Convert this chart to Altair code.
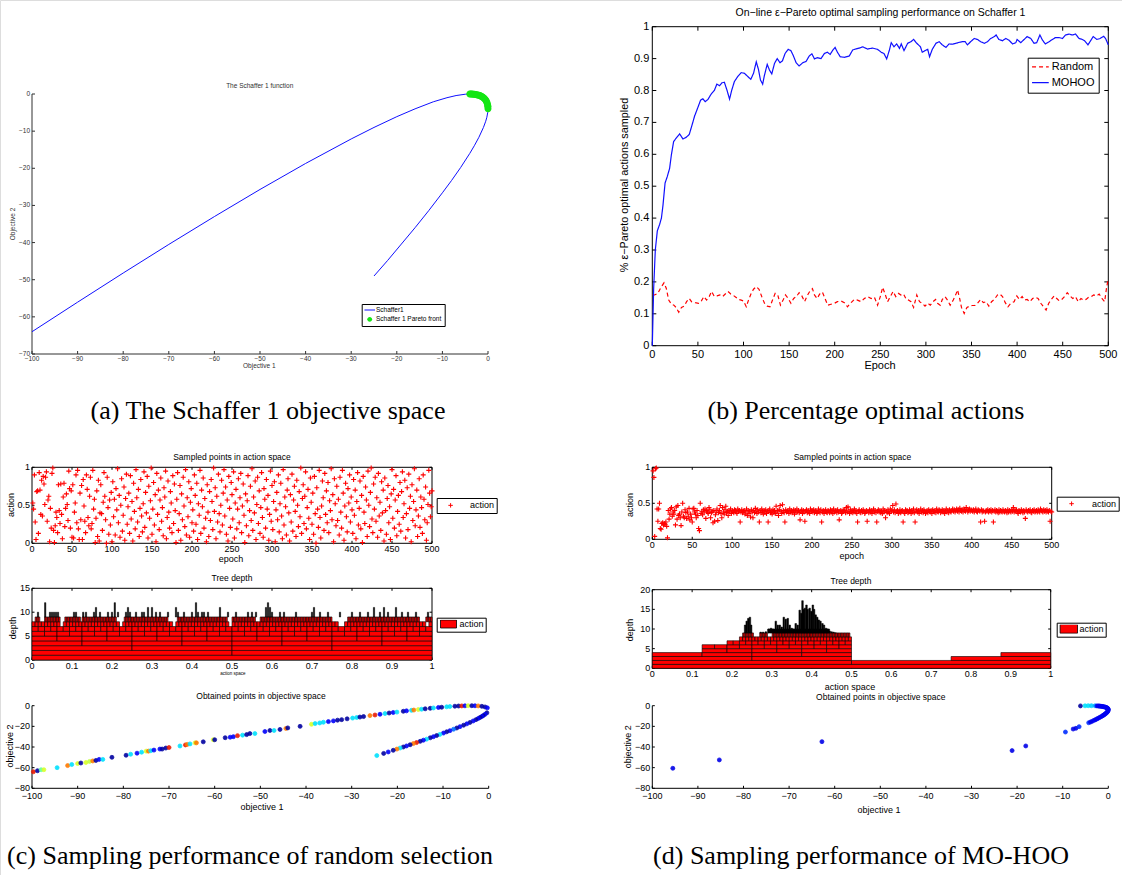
import altair as alt
import pandas as pd

W, H = 1122, 875
SANS = "Liberation Sans"
SERIF = "Liberation Serif"

# ---------------- (a) Schaffer 1 objective space (objective 1, objective 2) ----------------
schaffer_curve = [(-100, -64), (-90, -56.05), (-80, -48.2), (-70, -40.5), (-60, -33.0), (-50, -25.7),
                  (-40, -18.7), (-30, -12.1), (-25, -9.0), (-20, -6.1), (-16, -4.0), (-12, -2.1),
                  (-9, -1.0), (-7, -0.42), (-5, -0.06), (-4, 0.0), (-3, -0.07), (-2, -0.34), (-1, -1.0),
                  (-0.5, -1.67), (-0.25, -2.25), (-0.1, -2.84), (0, -4.0), (-0.05, -4.9), (-0.25, -6.25),
                  (-0.5, -7.33), (-1, -9.0), (-2, -11.66), (-3, -13.93), (-4, -16.0), (-6, -19.8),
                  (-8, -23.3), (-10, -26.6), (-13, -31.4), (-16, -36.0), (-19, -40.4), (-22, -44.8),
                  (-25, -49.0)]
pareto_front = [(0, -4.0), (-0.02, -3.45), (-0.04, -3.2), (-0.1, -2.84), (-0.2, -2.41), (-0.3, -2.1),
                (-0.45, -1.77), (-0.6, -1.5), (-0.8, -1.22), (-1.0, -1.0), (-1.2, -0.82), (-1.4, -0.67),
                (-1.6, -0.54), (-1.8, -0.43), (-2.0, -0.34), (-2.25, -0.25), (-2.5, -0.18), (-2.75, -0.12),
                (-3.0, -0.07), (-3.25, -0.04), (-3.5, -0.02), (-3.75, 0.0), (-4.0, 0.0)]
a_series = ["Schaffer1", "Schaffer 1 Pareto front"]

# ---------------- (b) percentage of eps-Pareto optimal actions (epoch, fraction) ----------------
b_series = ["Random", "MOHOO"]
mohoo_curve = [(0, 0), (1.5, 0.18), (3.3, 0.30), (5.5, 0.36), (8, 0.38), (10, 0.40), (11.7, 0.44), (14, 0.51),
               (16.4, 0.53), (19, 0.556), (21, 0.60), (23.4, 0.64), (26, 0.65), (30, 0.664), (33.6, 0.648),
               (37, 0.653), (40.5, 0.662), (43.4, 0.69), (46.4, 0.72), (50, 0.747), (53, 0.77), (55.5, 0.774),
               (58, 0.765), (61, 0.772), (64.6, 0.789), (68, 0.80), (70.8, 0.82), (73.7, 0.815), (76.3, 0.824),
               (79, 0.826), (82, 0.80), (84.7, 0.773), (87, 0.80), (90, 0.828), (94, 0.845), (97.5, 0.856),
               (101, 0.854), (105, 0.843), (108, 0.835), (111, 0.854), (114, 0.89), (116.4, 0.866),
               (118.6, 0.833), (121, 0.82), (123, 0.848), (126, 0.882), (128.5, 0.864), (131, 0.852),
               (134, 0.885), (137, 0.90), (140, 0.887), (142.7, 0.893), (145.6, 0.916), (149, 0.929),
               (152, 0.925), (154.8, 0.908), (157.7, 0.887), (161, 0.877), (165, 0.887), (168.6, 0.891),
               (172, 0.908), (175, 0.915), (177.8, 0.899), (181, 0.903), (185, 0.90), (188.7, 0.916),
               (192, 0.92), (195, 0.913), (198, 0.927), (200.4, 0.935), (203, 0.92), (206, 0.906),
               (210.6, 0.904), (216, 0.908), (219.7, 0.927), (223, 0.93), (227, 0.933), (230.7, 0.937),
               (236, 0.93), (241.6, 0.933), (247, 0.929), (251, 0.92), (254, 0.916), (257, 0.899), (260, 0.927),
               (262, 0.95), (265, 0.937), (268, 0.946), (271, 0.932), (273, 0.946), (276, 0.925), (280, 0.948),
               (283.6, 0.953), (286.5, 0.96), (290, 0.948), (294, 0.937), (296, 0.92), (299, 0.925),
               (302, 0.929), (304, 0.906), (307, 0.929), (311, 0.948), (314.6, 0.953), (318, 0.943),
               (322, 0.935), (325.5, 0.946), (329, 0.945), (333, 0.948), (336.5, 0.951), (340, 0.953),
               (343, 0.953), (345.6, 0.943), (349, 0.953), (353, 0.963), (356.6, 0.96), (360, 0.953),
               (364, 0.948), (367.5, 0.953), (371, 0.963), (375, 0.969), (377, 0.974), (380, 0.96),
               (384, 0.956), (387.6, 0.963), (391, 0.958), (395, 0.946), (398.6, 0.95), (400, 0.96),
               (404, 0.95), (407.7, 0.96), (411, 0.969), (415, 0.963), (418.6, 0.948), (421.5, 0.95),
               (425, 0.974), (427.8, 0.958), (431, 0.946), (435, 0.953), (438.7, 0.96), (442, 0.966),
               (446, 0.966), (449.7, 0.963), (453, 0.974), (457, 0.977), (460.6, 0.974), (464, 0.977),
               (468, 0.963), (471.6, 0.96), (474, 0.956), (477.7, 0.943), (481, 0.958), (483.5, 0.969),
               (487.5, 0.96), (491, 0.963), (495, 0.97), (497, 0.963), (500, 0.943)]
random_curve = [(0.5, 0.16), (2.5, 0.159), (6, 0.164), (9, 0.18), (12.8, 0.197), (15.3, 0.18), (18, 0.143),
                (21, 0.13), (23.7, 0.127), (26, 0.12), (29, 0.105), (32, 0.12), (35, 0.124), (37.6, 0.138),
                (40.5, 0.148), (43, 0.138), (47, 0.135), (50.7, 0.133), (53.7, 0.14), (56.6, 0.154),
                (59.5, 0.143), (62.4, 0.154), (65, 0.17), (68, 0.154), (71, 0.156), (74, 0.159), (77, 0.154),
                (80, 0.162), (83, 0.17), (86, 0.162), (88.7, 0.158), (91.6, 0.152), (94.5, 0.145),
                (97.5, 0.143), (100, 0.14), (103, 0.122), (105.5, 0.143), (108.4, 0.164), (111, 0.177),
                (114, 0.185), (117, 0.177), (120, 0.154), (123, 0.133), (126, 0.124), (129, 0.122),
                (131.8, 0.143), (134.7, 0.164), (137.6, 0.159), (140.5, 0.127), (143.4, 0.143), (146, 0.159),
                (149, 0.148), (152, 0.133), (155, 0.148), (158, 0.154), (161, 0.166), (164, 0.156),
                (167, 0.138), (169.7, 0.156), (172.6, 0.17), (175.6, 0.179), (177.8, 0.159), (180.7, 0.148),
                (183.6, 0.162), (186.5, 0.168), (189.4, 0.148), (192.4, 0.127), (196, 0.13), (199.7, 0.133),
                (203, 0.138), (207, 0.14), (210.6, 0.135), (214, 0.122), (218, 0.135), (221.6, 0.145),
                (225, 0.143), (229, 0.138), (232.5, 0.148), (236, 0.154), (240, 0.148), (243.5, 0.152),
                (247, 0.127), (250, 0.154), (252.6, 0.183), (255, 0.164), (258, 0.138), (261, 0.154),
                (264, 0.17), (267, 0.154), (270, 0.164), (272.6, 0.159), (275.5, 0.162), (278.5, 0.145),
                (281, 0.143), (283.6, 0.138), (286.5, 0.12), (290, 0.159), (293, 0.138), (296, 0.133),
                (299, 0.124), (302, 0.133), (304.8, 0.127), (307.7, 0.138), (310.6, 0.145), (312.8, 0.133),
                (315.7, 0.127), (318, 0.145), (321, 0.154), (323.7, 0.143), (326.6, 0.127), (330, 0.143),
                (333, 0.162), (334.7, 0.175), (337, 0.148), (339, 0.12), (342, 0.101), (345, 0.12),
                (348, 0.124), (350.7, 0.126), (353.7, 0.126), (356.6, 0.133), (360, 0.145), (363, 0.135),
                (366, 0.138), (369, 0.124), (372, 0.138), (375, 0.145), (378.5, 0.159), (381, 0.162),
                (384, 0.154), (387, 0.135), (390, 0.122), (393, 0.133), (396.7, 0.138), (399.7, 0.156),
                (402.6, 0.145), (405.5, 0.154), (408, 0.143), (411, 0.145), (414, 0.138), (417, 0.148),
                (420, 0.152), (423, 0.148), (426, 0.133), (429, 0.122), (431.8, 0.112), (434.7, 0.133),
                (437.6, 0.145), (440.5, 0.156), (443.5, 0.148), (446, 0.141), (449, 0.145), (452, 0.154),
                (455, 0.166), (458, 0.156), (461, 0.148), (464, 0.154), (467, 0.138), (470, 0.148),
                (472.6, 0.143), (475.6, 0.145), (478.5, 0.152), (481.4, 0.154), (484, 0.159), (487, 0.156),
                (490, 0.162), (493, 0.148), (496, 0.138), (498, 0.18), (500, 0.211)]

# ---------------- (c) random selection ----------------
c_action = [
    .53, .45, .90, .28, .05, .68, .69, .13, .93, .70, .38, .83, .36, .88, .78, .51, .87, .94, .29, .57,
    .62, .02, .46, .20, .92, .99, .17, .01, .23, .41, .34, .14, .77, .43, .26, .78, .38, .06, .61, .79,
    .22, .46, .65, .51, .30, .95, .72, .20, .69, .08, .77, .07, .41, .53, .90, .27, .96, .19, .05, .66,
    .31, .76, .05, .84, .49, .29, .14, .90, .71, .34, .23, .62, .87, .19, .26, .96, .45, .58, .01, .33,
    .69, .09, .83, .03, .40, .77, .39, .17, .54, .93, .62, .31, .00, .87, .47, .12, .57, .24, .67, .02,
    .81, .35, .58, .11, .72, .44, .98, .27, .63, .08, .50, .85, .16, .37, .74, .04, .59, .91, .25, .48,
    .66, .13, .89, .32, .55, .03, .79, .42, .19, .97, .60, .28, .71, .09, .46, .84, .36, .15, .52, .94,
    .21, .67, .40, .88, .07, .75, .33, .56, .99, .12, .45, .80, .24, .64, .02, .92, .38, .70, .18, .57,
    .86, .29, .47, .10, .73, .61, .95, .06, .34, .82, .41, .20, .68, .53, .14, .89, .26, .78, .43, .01,
    .58, .93, .17, .39, .76, .04, .65, .31, .87, .49, .22, .97, .11, .60, .35, .81, .08, .54, .72, .27,
    .44, .16, .90, .63, .25, .79, .05, .52, .37, .96, .13, .70, .48, .86, .20, .59, .33, .02, .77, .41,
    .09, .68, .30, .84, .55, .18, .99, .42, .73, .06, .62, .28, .91, .39, .15, .50, .83, .24, .66, .97,
    .36, .74, .12, .57, .03, .88, .46, .21, .80, .64, .32, .94, .07, .53, .71, .19, .45, .85, .27, .60,
    .92, .14, .49, .78, .37, .01, .65, .23, .56, .89, .10, .43, .75, .30, .98, .17, .61, .40, .82, .05,
    .51, .87, .26, .69, .13, .47, .93, .34, .08, .72, .58, .20, .84, .45, .63, .04, .38, .95, .29, .76,
    .18, .55, .81, .02, .44, .67, .31, .90, .15, .52, .79, .36, .06, .97, .24, .61, .48, .11, .70, .85,
    .40, .03, .64, .28, .91, .16, .57, .75, .42, .09, .83, .50, .22, .68, .35, .99, .13, .59, .77, .26,
    .62, .94, .19, .47, .71, .33, .05, .86, .54, .25, .66, .12, .88, .39, .00, .73, .45, .21, .96, .34,
    .07, .49, .82, .60, .17, .92, .38, .69, .27, .80, .14, .56, .43, .98, .31, .64, .02, .85, .52, .23,
    .75, .30, .58, .11, .87, .41, .20, .96, .66, .04, .49, .79, .35, .15, .72, .53, .90, .28, .61, .44,
    .13, .84, .37, .70, .06, .55, .93, .24, .46, .82, .19, .63, .01, .88, .41, .26, .74, .57, .09, .95,
    .50, .22, .67, .99, .32, .14, .78, .45, .87, .29, .60, .08, .92, .36, .54, .17, .81, .40, .70, .03,
    .86, .43, .12, .59, .76, .27, .48, .05, .65, .97, .33, .71, .20, .57, .89, .10, .42, .63, .25, .80,
    .16, .68, .94, .34, .52, .83, .07, .39, .73, .18, .91, .46, .62, .02, .77, .30, .55, .98, .23, .44,
    .70, .09, .36, .85, .21, .61, .47, .13, .90, .58, .31, .74, .04, .27, .51, .96, .66, .35, .48, .69]

# tree rows: (depth row, [(first node, last node + 1)]) ; node width = 2 ** -row
c_tree_rows = [(0, [(0, 1)]), (1, [(0, 2)]), (2, [(0, 4)]), (3, [(0, 8)]), (4, [(0, 16)]), (5, [(0, 32)]),
               (6, [(0, 64)]),
               (7, [(0, 9), (10, 28), (29, 45), (46, 63), (64, 98), (100, 126), (127, 128)]),
               (8, [(2, 5), (8, 18), (21, 31), (32, 54), (59, 87), (93, 125), (128, 143), (146, 192),
                    (202, 248), (252, 256)])]
# deeper nodes (action, depth reached)
c_tree_spikes = [(0.015, 10), (0.033, 12), (0.045, 10), (0.05, 10), (0.055, 10), (0.06, 10), (0.065, 10),
                 (0.105, 10), (0.11, 10), (0.128, 10), (0.135, 10), (0.155, 10), (0.16, 11), (0.17, 10),
                 (0.19, 10), (0.2, 10), (0.207, 12), (0.215, 10), (0.235, 10), (0.24, 11), (0.245, 10),
                 (0.26, 10), (0.275, 10), (0.28, 10), (0.29, 11), (0.3, 11), (0.31, 10), (0.32, 10),
                 (0.34, 10), (0.36, 11), (0.365, 10), (0.38, 10), (0.4, 10), (0.41, 12), (0.415, 10),
                 (0.425, 10), (0.43, 10), (0.44, 10), (0.47, 11), (0.49, 10), (0.51, 10), (0.54, 10),
                 (0.55, 10), (0.56, 10), (0.585, 11), (0.59, 12), (0.595, 11), (0.6, 10), (0.62, 10),
                 (0.63, 10), (0.66, 10), (0.7, 10), (0.705, 11), (0.72, 10), (0.74, 10), (0.77, 10),
                 (0.8, 10), (0.82, 10), (0.84, 10), (0.855, 11), (0.87, 10), (0.88, 11), (0.89, 10),
                 (0.91, 11), (0.925, 10), (0.94, 10), (0.96, 10), (0.99, 10)]

# obtained points in objective space: (objective 1, objective 2, colour value 0..1 on jet)
c_objective = [(-99.7, -64, 0.9), (-98.8, -63, 0.02), (-98, -62, 0.5), (-97.4, -62, 0.62), (-94.5, -60, 0.38),
               (-92.2, -58, 0.8), (-91.3, -57, 0.38), (-90, -56, 0.62), (-89.3, -55.5, 0.02), (-88.2, -55, 0.62),
               (-87.4, -54, 0.6), (-86.7, -53.5, 0.8), (-86, -53, 0.02), (-85.3, -52, 0.12), (-84.5, -52, 0.38),
               (-82.5, -50, 0.02), (-79.4, -48, 0.02), (-78.4, -47, 0.38), (-77, -46, 0.12), (-76, -45, 0.38),
               (-75, -44, 0.62), (-74.5, -44, 0.8), (-74, -43.6, 0.38), (-73.3, -43, 0.12), (-72, -42, 0.12),
               (-71.5, -42, 0.02), (-70.7, -41, 0.02), (-70, -40.5, 0.9), (-67.6, -39, 0.38), (-66.4, -38, 0.9),
               (-66, -37.5, 0.8), (-65.4, -37, 0.38), (-64.3, -36, 0.62), (-64, -36, 0.8), (-62.5, -35, 0.02),
               (-60.3, -33, 0.62), (-60, -33, 0.02), (-57.7, -31, 0.02), (-56.6, -30.5, 0.12), (-55.9, -30, 0.12),
               (-55, -29, 0.9), (-53.9, -28.5, 0.38), (-53, -28, 0.02), (-52.3, -27, 0.02), (-51.2, -27, 0.38),
               (-49, -25, 0.12), (-47.9, -24, 0.02), (-47, -24, 0.38), (-45.7, -23, 0.02), (-44.4, -22, 0.8),
               (-44, -21.5, 0.02), (-41.3, -20, 0.02), (-38.8, -18, 0.62), (-38, -17.3, 0.38), (-37, -16.7, 0.38),
               (-36.2, -16, 0.38), (-35.1, -15.4, 0.12), (-34, -14.7, 0.12), (-33.1, -14, 0.02), (-32.2, -13.5, 0.02),
               (-31, -12.7, 0.02), (-29.8, -12, 0.38), (-28.9, -11.4, 0.38), (-28.2, -11, 0.02), (-27.4, -10.5, 0.02),
               (-26, -9.6, 0.8), (-24.9, -9, 0.9), (-23.8, -8.3, 0.12), (-22.7, -7.6, 0.38), (-21.8, -7.1, 0.02),
               (-20.9, -6.6, 0.12), (-20.1, -6.2, 0.38), (-18.7, -5.4, 0.02), (-18, -5, 0.12), (-16.9, -4.5, 0.38),
               (-16.4, -4.2, 0.8), (-15.4, -3.7, 0.62), (-14.7, -3.4, 0.38), (-13.9, -3, 0.02), (-12.8, -2.5, 0.02),
               (-12.1, -2.2, 0.38), (-11, -1.7, 0.12), (-10.3, -1.5, 0.02), (-9.2, -1.1, 0.38), (-8.5, -0.8, 0.38),
               (-7.4, -0.5, 0.02), (-6.6, -0.3, 0.02), (-5.9, -0.2, 0.9), (-5.2, -0.1, 0.12), (-4.5, 0, 0.62),
               (-3.7, 0, 0.02), (-3, -0.07, 0.12), (-2.3, -0.2, 0.8), (-1.5, -0.6, 0.02), (-0.8, -1.2, 0.02),
               (-0.3, -2.1, 0.12), (-0.4, -6.9, 0.02), (-0.8, -8.4, 0.12), (-1.2, -9.6, 0.02), (-1.5, -10.4, 0.12),
               (-1.9, -11.4, 0.02), (-2.3, -12.4, 0.12), (-2.8, -13.5, 0.02), (-3.4, -14.8, 0.12), (-4.1, -16.2, 0.02),
               (-4.8, -17.6, 0.12), (-5.5, -18.9, 0.02), (-6.3, -20.3, 0.12), (-7, -21.6, 0.02), (-7.7, -22.8, 0.25),
               (-8.5, -24.2, 0.12), (-9.2, -25.3, 0.02), (-9.9, -26.5, 0.12), (-10.7, -27.8, 0.38), (-11.4, -28.9, 0.02),
               (-12.1, -30, 0.12), (-12.8, -31.1, 0.02), (-13.6, -32.4, 0.38), (-14.3, -33.4, 0.12), (-15, -34.5, 0.02),
               (-15.8, -35.7, 0.9), (-16.5, -36.7, 0.8), (-17.2, -37.8, 0.02), (-18, -39, 0.12), (-18.7, -40, 0.02),
               (-19.4, -41, 0.38), (-20.1, -42, 0.8), (-20.9, -43.2, 0.02), (-22, -44.8, 0.12), (-23, -46.2, 0.02),
               (-24.5, -48.3, 0.38)]

# ---------------- (d) MO-HOO ----------------
d_action = [
    .95, .86, .04, .98, .99, .42, .25, .42, .50, .15, .14, .22, .23, .20, .22, .21, .24, .18, .02, .40,
    .28, .35, .42, .44, .32, .38, .35, .40, .20, .45, .28, .47, .33, .35, .30, .19, .38, .50, .32, .30,
    .41, .37, .29, .38, .32, .43, .27, .35, .30, .24, .42, .43, .38, .35, .30, .40, .33, .15, .12, .50,
    .36, .39, .34, .41, .38, .42, .29, .40, .38, .36, .44, .41, .30, .37, .39, .23, .40, .25, .34, .38,
    .42, .26, .37, .40, .47, .36, .30, .44, .38, .35, .41, .46, .37, .39, .33, .40, .38, .42, .36, .40,
    .39, .37, .41, .40, .38, .36, .42, .39, .40, .24, .38, .41, .37, .39, .40, .35, .38, .42, .33, .40,
    .36, .39, .31, .41, .38, .30, .40, .37, .43, .39, .36, .41, .38, .24, .40, .37, .42, .39, .35, .40,
    .38, .41, .36, .39, .24, .40, .42, .37, .38, .35, .41, .39, .40, .36, .46, .38, .40, .33, .41, .47,
    .39, .36, .48, .40, .37, .24, .41, .38, .39, .40, .36, .42, .38, .40, .37, .39, .41, .35, .40, .38,
    .42, .38, .40, .37, .27, .39, .41, .36, .40, .38, .25, .39, .41, .37, .40, .38, .36, .42, .39, .40,
    .38, .41, .37, .40, .39, .36, .38, .42, .39, .37, .41, .24, .38, .40, .36, .39, .41, .38, .37, .40,
    .39, .37, .41, .38, .40, .36, .42, .38, .39, .40, .37, .41, .38, .27, .39, .40, .36, .38, .41, .39,
    .40, .37, .44, .38, .45, .39, .36, .41, .38, .40, .37, .39, .42, .38, .40, .36, .24, .39, .41, .38,
    .37, .40, .38, .41, .39, .36, .38, .40, .25, .39, .37, .41, .38, .40, .36, .39, .42, .38, .40, .37,
    .24, .39, .41, .38, .40, .37, .39, .36, .42, .38, .40, .30, .39, .37, .41, .38, .36, .42, .39, .40,
    .47, .38, .41, .37, .49, .39, .40, .36, .38, .41, .37, .39, .40, .24, .38, .36, .41, .39, .40, .37,
    .38, .41, .39, .36, .40, .38, .42, .37, .24, .39, .41, .38, .40, .36, .39, .42, .38, .40, .37, .41,
    .39, .36, .38, .40, .37, .41, .39, .38, .40, .36, .41, .39, .38, .40, .37, .42, .39, .38, .41, .40,
    .37, .39, .41, .38, .40, .36, .39, .42, .38, .40, .37, .41, .39, .38, .40, .42, .39, .41, .38, .40,
    .42, .39, .41, .38, .43, .40, .39, .41, .38, .42, .40, .39, .44, .41, .38, .40, .42, .39, .41, .40,
    .39, .41, .38, .40, .42, .39, .38, .41, .40, .39, .24, .41, .38, .40, .39, .25, .38, .40, .39, .41,
    .38, .40, .39, .41, .38, .40, .24, .39, .41, .38, .40, .39, .37, .41, .38, .40, .39, .38, .41, .39,
    .38, .40, .39, .37, .41, .38, .40, .39, .38, .41, .39, .44, .38, .40, .39, .41, .38, .36, .40, .39,
    .38, .41, .39, .37, .40, .38, .29, .41, .39, .38, .40, .39, .41, .38, .37, .40, .39, .41, .38, .39,
    .40, .38, .41, .39, .38, .42, .40, .39, .38, .41, .39, .40, .38, .41, .39, .38, .40, .25, .39, .38]

d_tree_rows = [(0, [(0, 1)]), (1, [(0, 2)]), (2, [(0, 2), (3, 4)]), (3, [(0, 4), (7, 8)]), (4, [(2, 8)]),
               (5, [(4, 16)]), (6, [(12, 32)]), (7, [(28, 64)]), (8, [(58, 65), (69, 74), (77, 127)])]
d_tree_band = [(0.29, 0.445, 10)]
d_tree_spikes = [(0.233, 11), (0.237, 12), (0.241, 12.7), (0.245, 13), (0.248, 11), (0.272, 9.2), (0.278, 9.2),
                 (0.285, 9.3), (0.292, 10), (0.298, 10.2), (0.303, 10), (0.31, 12), (0.315, 11), (0.32, 11),
                 (0.325, 10.5), (0.33, 13), (0.335, 12.5), (0.34, 12.7), (0.345, 11), (0.35, 10.2), (0.355, 10),
                 (0.36, 11.4), (0.365, 11), (0.37, 14.8), (0.374, 14), (0.377, 17.2), (0.38, 15), (0.383, 15.3),
                 (0.387, 16.1), (0.39, 15), (0.395, 15.3), (0.399, 14.5), (0.403, 16.1), (0.406, 15),
                 (0.41, 13.6), (0.414, 13), (0.418, 12.3), (0.422, 12), (0.427, 11.4), (0.431, 11),
                 (0.436, 10.2), (0.44, 10), (0.445, 9.5), (0.45, 9.3), (0.455, 9.2), (0.46, 9)]

d_objective = [(-95.5, -60.6, 0.1), (-85.3, -52.5, 0.1), (-62.8, -34.8, 0.1), (-21.1, -43.5, 0.1),
               (-18.1, -39, 0.1), (-9.4, -25.5, 0.15), (-7.7, -22.6, 0.1), (-7.1, -21.9, 0.1),
               (-6.4, -20.3, 0.15), (-4.3, -16.5, 0.15), (-6.1, -0.2, 0.02), (-5.1, -0.1, 0.38),
               (-4.4, 0, 0.38), (-3.7, 0, 0.35), (-2.9, -0.1, 0.3), (-2.5, -0.18, 0.12), (-2.2, -0.27, 0.1),
               (-2.0, -0.34, 0.12), (-1.8, -0.43, 0.1), (-1.6, -0.54, 0.12), (-1.4, -0.67, 0.1),
               (-1.2, -0.82, 0.12), (-1.0, -1.0, 0.1), (-0.8, -1.22, 0.12), (-0.6, -1.5, 0.1),
               (-0.45, -1.77, 0.12), (-0.3, -2.1, 0.1), (-0.2, -2.41, 0.12), (-0.1, -2.84, 0.1),
               (-0.03, -3.34, 0.12), (0, -4, 0.1), (-0.05, -4.9, 0.12), (-0.15, -5.7, 0.1), (-0.3, -6.5, 0.12),
               (-0.5, -7.3, 0.1), (-0.7, -8.05, 0.12), (-0.9, -8.7, 0.1), (-1.1, -9.3, 0.12), (-1.3, -9.86, 0.1),
               (-1.6, -10.66, 0.12), (-1.9, -11.4, 0.1), (-2.2, -12.1, 0.12), (-2.5, -12.8, 0.1),
               (-2.8, -13.5, 0.12), (-3.1, -14.1, 0.1), (-3.5, -15.0, 0.12), (-3.9, -15.8, 0.1)]

# ---------------- styles ----------------
JET_STOPS = [0, 0.125, 0.25, 0.375, 0.5, 0.625, 0.75, 0.875, 1]
JET = ["#00008f", "#0000ff", "#0070ff", "#00dfff", "#60ff9f", "#dfff20", "#ffa000", "#ff2000", "#900000"]
PLUS = "M-1,0H1M0,-1V1"
LINE_SYM = "M-1,-0.09H1V0.09H-1Z"
DOT_SYM = "M -0.45 0 A 0.45 0.45 0 1 0 0.45 0 A 0.45 0.45 0 1 0 -0.45 0 Z"
RECT_SYM = "M-1,-0.5H1V0.5H-1Z"


def tick_text(v):
    return f"{v:g}".replace("-", "\u2212")


def frame(xd, xr, yd, yr, xt, yt, fs, box, tick_len, color="black", xpad=2, ypad=2):
    """Axes of one panel: inward ticks, tick labels, and either a box or the two axis lines."""
    xs = alt.Scale(domain=xd, range=xr, nice=False, zero=False)
    ys = alt.Scale(domain=yd, range=yr, nice=False, zero=False)
    lx = tick_len * (xd[1] - xd[0]) / (xr[1] - xr[0])
    ly = tick_len * (yd[1] - yd[0]) / (yr[0] - yr[1])
    rows = []
    for v in xt:
        rows.append(dict(x=v, x2=v, y=yd[0], y2=yd[0] + ly))
        if box:
            rows.append(dict(x=v, x2=v, y=yd[1] - ly, y2=yd[1]))
    for v in yt:
        rows.append(dict(x=xd[0], x2=xd[0] + lx, y=v, y2=v))
        if box:
            rows.append(dict(x=xd[1] - lx, x2=xd[1], y=v, y2=v))
    if not box:
        rows.append(dict(x=xd[0], x2=xd[1], y=yd[0], y2=yd[0]))
        rows.append(dict(x=xd[0], x2=xd[0], y=yd[0], y2=yd[1]))
    enc = dict(x=alt.X("x:Q", scale=xs, axis=None), x2="x2:Q", y=alt.Y("y:Q", scale=ys, axis=None), y2="y2:Q")
    layers = [alt.Chart(pd.DataFrame(rows)).mark_rule(color=color, strokeWidth=1).encode(**enc)]
    if box:
        layers.append(alt.Chart(pd.DataFrame([dict(x=xd[0], x2=xd[1], y=yd[0], y2=yd[1])]))
                      .mark_rect(fillOpacity=0, stroke=color, strokeWidth=1).encode(**enc))
    xl = pd.DataFrame([dict(v=v, y0=yd[0], t=tick_text(v)) for v in xt])
    yl = pd.DataFrame([dict(v=v, x0=xd[0], t=tick_text(v)) for v in yt])
    layers.append(alt.Chart(xl).mark_text(font=SANS, fontSize=fs, color=color, align="center",
                                          baseline="top", dy=xpad).encode(
        x=alt.X("v:Q", scale=xs, axis=None), y=alt.Y("y0:Q", scale=ys, axis=None), text="t:N"))
    layers.append(alt.Chart(yl).mark_text(font=SANS, fontSize=fs, color=color, align="right",
                                          baseline="middle", dx=-ypad).encode(
        x=alt.X("x0:Q", scale=xs, axis=None), y=alt.Y("v:Q", scale=ys, axis=None), text="t:N"))
    return xs, ys, layers


def text(t, x, y, fs, angle=0, font=SANS, color="black"):
    return alt.Chart(pd.DataFrame({"t": [t]})).mark_text(
        font=font, fontSize=fs, angle=angle, color=color, align="center", baseline="middle"
    ).encode(x=alt.value(x), y=alt.value(y), text="t:N")


def legend(x, y, **kw):
    base = dict(orient="none", legendX=x, legendY=y, title=None, strokeColor="black", fillColor="white",
                labelFont=SANS, labelColor="black", cornerRadius=0)
    base.update(kw)
    return alt.Legend(**base)


def tree_cells(rows):
    out = []
    for r, segs in rows:
        w = 1.0 / 2 ** r
        for a, b in segs:
            for k in range(a, b):
                out.append(dict(x0=k * w, x1=(k + 1) * w, y0=r, y1=r + 1, s="action"))
    return pd.DataFrame(out)


layers = []

# ===== (a) =====
AGRAY = "#303030"
xs, ys, fr = frame([-100, 0], [32, 488], [-70, 0], [354, 94], list(range(-100, 1, 10)),
                   list(range(-70, 1, 10)), 6.5, False, 3, color=AGRAY, xpad=2, ypad=2)
curve_df = pd.DataFrame([dict(o1=a, o2=b, i=i) for i, (a, b) in enumerate(schaffer_curve)])
front_df = pd.DataFrame([dict(o1=a, o2=b, s=a_series[1]) for a, b in pareto_front])
leg_a = legend(361.7, 304, padding=2.5, symbolSize=115, symbolOffset=0, labelOffset=0.8, clipHeight=7,
               rowPadding=2.3, labelFontSize=6.5, symbolStrokeWidth=0)
a_line = alt.Chart(curve_df).mark_line(color="#1010ff", strokeWidth=1).encode(
    x=alt.X("o1:Q", scale=xs, axis=None), y=alt.Y("o2:Q", scale=ys, axis=None), order="i:Q")
a_pts = alt.Chart(front_df).mark_point(filled=True, size=240, opacity=1).encode(
    x=alt.X("o1:Q", scale=xs, axis=None), y=alt.Y("o2:Q", scale=ys, axis=None),
    fill=alt.Fill("s:N", scale=alt.Scale(domain=a_series, range=["#1010ff", "#14e614"]), legend=leg_a),
    shape=alt.Shape("s:N", scale=alt.Scale(domain=a_series, range=[LINE_SYM, DOT_SYM]), legend=leg_a))
layers.append(alt.layer(*fr, a_line, a_pts))
layers += [text("The Schaffer 1 function", 259.7, 86, 6.5, color=AGRAY),
           text("Objective 1", 259.3, 366, 6.5, color=AGRAY),
           text("Objective 2", 13.3, 224, 6.5, angle=270, color=AGRAY)]

# ===== (b) =====
xs, ys, fr = frame([0, 500], [652.3, 1108.3], [0, 1], [345.7, 26.7], list(range(0, 501, 50)),
                   [0, 0.1, 0.2, 0.3, 0.4, 0.5, 0.6, 0.7, 0.8, 0.9, 1], 11, True, 4, xpad=3, ypad=3)
b_df = pd.DataFrame([dict(e=e, v=v, s="Random") for e, v in random_curve] +
                    [dict(e=e, v=v, s="MOHOO") for e, v in mohoo_curve])
leg_b = legend(1027.7, 57.7, padding=3.7, symbolType="stroke", symbolSize=279, symbolOffset=0,
               labelOffset=2.3, clipHeight=11, rowPadding=3.8, labelFontSize=11, symbolStrokeWidth=1.2)
b_lines = alt.Chart(b_df).mark_line(strokeWidth=1.2).encode(
    x=alt.X("e:Q", scale=xs, axis=None), y=alt.Y("v:Q", scale=ys, axis=None),
    color=alt.Color("s:N", scale=alt.Scale(domain=b_series, range=["#ff0000", "#1010ff"]), legend=leg_b),
    strokeDash=alt.StrokeDash("s:N", scale=alt.Scale(domain=b_series, range=[[4, 3], [1, 0]]), legend=leg_b))
layers.append(alt.layer(*fr, b_lines))
layers += [text("On\u2212line \u03b5\u2212Pareto optimal sampling performance on Schaffer 1", 880.5, 13, 10.5),
           text("Epoch", 880, 366, 11),
           text("% \u03b5\u2212Pareto optimal actions sampled", 625, 185, 10.8, angle=270)]

# ===== (c1) =====
xs, ys, fr = frame([0, 500], [32, 432], [0, 1], [543.3, 467.3], list(range(0, 501, 50)), [0, 0.5, 1],
                   9, True, 2.5)
c1_df = pd.DataFrame(dict(e=list(range(1, len(c_action) + 1)), a=c_action, s="action"))
leg_c1 = legend(436.7, 498, padding=2, symbolType=PLUS, symbolSize=20, symbolOffset=7.4, labelOffset=14.8,
                clipHeight=10.7, labelFontSize=9, symbolStrokeWidth=1)
c1_pts = alt.Chart(c1_df).mark_point(shape=PLUS, size=25, strokeWidth=1.1, filled=False, opacity=1).encode(
    x=alt.X("e:Q", scale=xs, axis=None), y=alt.Y("a:Q", scale=ys, axis=None),
    color=alt.Color("s:N", scale=alt.Scale(domain=["action"], range=["#ff0000"]), legend=leg_c1))
layers.append(alt.layer(*fr, c1_pts))
layers += [text("Sampled points in action space", 232, 456.7, 8.5),
           text("epoch", 231, 559.3, 9),
           text("action", 10.7, 505, 9, angle=270)]

# ===== (c2) =====
xs, ys, fr = frame([0, 1], [32, 432], [0, 15], [660, 588.3],
                   [0, 0.1, 0.2, 0.3, 0.4, 0.5, 0.6, 0.7, 0.8, 0.9, 1], [0, 5, 10, 15], 9, True, 2.5)
c2_cells = tree_cells(c_tree_rows)
c2_spk = pd.DataFrame([dict(x0=x - 0.0016, x1=x + 0.0016, y0=9, y1=t) for x, t in c_tree_spikes])
leg_c2 = legend(436.7, 617.7, padding=2, symbolType=RECT_SYM, symbolSize=256, symbolOffset=1.3,
                labelOffset=2.6, clipHeight=8.6, labelFontSize=9, symbolStrokeColor="black",
                symbolStrokeWidth=0.8)
c2_rect = alt.Chart(c2_cells).mark_rect(stroke="black", strokeWidth=0.6).encode(
    x=alt.X("x0:Q", scale=xs, axis=None), x2="x1:Q", y=alt.Y("y0:Q", scale=ys, axis=None), y2="y1:Q",
    fill=alt.Fill("s:N", scale=alt.Scale(domain=["action"], range=["#ff0000"]), legend=leg_c2))
c2_deep = alt.Chart(c2_spk).mark_rect(color="black", stroke="black", strokeWidth=0.5).encode(
    x=alt.X("x0:Q", scale=xs, axis=None), x2="x1:Q", y=alt.Y("y0:Q", scale=ys, axis=None), y2="y1:Q")
layers.append(alt.layer(*fr, c2_rect, c2_deep))
layers += [text("Tree depth", 232, 577.7, 8.5),
           text("action space", 233, 674.3, 4.5),
           text("depth", 13.3, 628, 9, angle=270)]

# ===== (c3) =====
xs, ys, fr = frame([-100, 0], [32, 488.7], [-80, 0], [788.3, 705.7], list(range(-100, 1, 10)),
                   list(range(-80, 1, 20)), 9, False, 2.5, xpad=4)
c3_df = pd.DataFrame([dict(o1=a, o2=b, c=c) for a, b, c in c_objective])
jet = alt.Scale(domain=JET_STOPS, range=JET)
c3_pts = alt.Chart(c3_df).mark_point(filled=True, size=16, strokeWidth=0.8, opacity=0.9).encode(
    x=alt.X("o1:Q", scale=xs, axis=None), y=alt.Y("o2:Q", scale=ys, axis=None),
    fill=alt.Fill("c:Q", scale=jet, legend=None), stroke=alt.Stroke("c:Q", scale=jet, legend=None))
layers.append(alt.layer(*fr, c3_pts))
layers += [text("Obtained points in objective space", 261, 695.7, 8.5),
           text("objective 1", 262, 807, 9),
           text("objective 2", 10, 746, 9, angle=270)]

# ===== (d1) =====
xs, ys, fr = frame([0, 500], [652.3, 1051.7], [0, 1], [539.3, 467.3], list(range(0, 501, 50)), [0, 0.5, 1],
                   9, True, 2.5)
d1_df = pd.DataFrame(dict(e=list(range(1, len(d_action) + 1)), a=d_action, s="action"))
leg_d1 = legend(1056.7, 496.7, padding=2, symbolType=PLUS, symbolSize=20, symbolOffset=8.4, labelOffset=15.8,
                clipHeight=10, labelFontSize=9, symbolStrokeWidth=1)
d1_pts = alt.Chart(d1_df).mark_point(shape=PLUS, size=25, strokeWidth=1.1, filled=False, opacity=1).encode(
    x=alt.X("e:Q", scale=xs, axis=None), y=alt.Y("a:Q", scale=ys, axis=None),
    color=alt.Color("s:N", scale=alt.Scale(domain=["action"], range=["#ff0000"]), legend=leg_d1))
layers.append(alt.layer(*fr, d1_pts))
layers += [text("Sampled points in action space", 852.5, 457.3, 8.5),
           text("epoch", 851.7, 556, 9),
           text("action", 630, 505, 9, angle=270)]

# ===== (d2) =====
xs, ys, fr = frame([0, 1], [652.3, 1050.7], [0, 20], [668.3, 589.7],
                   [0, 0.1, 0.2, 0.3, 0.4, 0.5, 0.6, 0.7, 0.8, 0.9, 1], [0, 5, 10, 15, 20], 9, True, 2.5)
d2_cells = tree_cells(d_tree_rows)
d2_spk = pd.DataFrame([dict(x0=x - 0.002, x1=x + 0.002, y0=9, y1=t) for x, t in d_tree_spikes] +
                      [dict(x0=a, x1=b, y0=9, y1=t) for a, b, t in d_tree_band])
leg_d2 = legend(1056.7, 622.7, padding=2, symbolType=RECT_SYM, symbolSize=303, symbolOffset=0.6,
                labelOffset=1.2, clipHeight=8.3, labelFontSize=9, symbolStrokeColor="black",
                symbolStrokeWidth=0.8)
d2_rect = alt.Chart(d2_cells).mark_rect(stroke="black", strokeWidth=0.6).encode(
    x=alt.X("x0:Q", scale=xs, axis=None), x2="x1:Q", y=alt.Y("y0:Q", scale=ys, axis=None), y2="y1:Q",
    fill=alt.Fill("s:N", scale=alt.Scale(domain=["action"], range=["#ff0000"]), legend=leg_d2))
d2_deep = alt.Chart(d2_spk).mark_rect(color="black", stroke="black", strokeWidth=0.5).encode(
    x=alt.X("x0:Q", scale=xs, axis=None), x2="x1:Q", y=alt.Y("y0:Q", scale=ys, axis=None), y2="y1:Q")
layers.append(alt.layer(*fr, d2_rect, d2_deep))
layers += [text("Tree depth", 851, 580.7, 8.5),
           text("action space", 850, 686.7, 9),
           text("depth", 630, 630, 9, angle=270)]

# ===== (d3) =====
xs, ys, fr = frame([-100, 0], [652.3, 1108.3], [-80, 0], [788.3, 705.7], list(range(-100, 1, 10)),
                   list(range(-80, 1, 20)), 9, False, 2.5, xpad=4)
d3_df = pd.DataFrame([dict(o1=a, o2=b, c=c) for a, b, c in d_objective])
d3_pts = alt.Chart(d3_df).mark_point(filled=True, size=16, strokeWidth=0.8, opacity=0.9).encode(
    x=alt.X("o1:Q", scale=xs, axis=None), y=alt.Y("o2:Q", scale=ys, axis=None),
    fill=alt.Fill("c:Q", scale=jet, legend=None), stroke=alt.Stroke("c:Q", scale=jet, legend=None))
layers.append(alt.layer(*fr, d3_pts))
layers += [text("Obtained points in objective space", 880.8, 697.3, 8.5),
           text("objective 1", 879, 809.5, 9),
           text("objective 2", 628.3, 746.7, 9, angle=270)]

# ===== captions =====
CAP = 26
layers += [text("(a) The Schaffer 1 objective space", 268, 411, CAP, font=SERIF),
           text("(b) Percentage optimal actions", 866, 411, CAP, font=SERIF),
           text("(c) Sampling performance of random selection", 250, 856, CAP, font=SERIF),
           text("(d) Sampling performance of MO-HOO", 861, 856, CAP, font=SERIF)]

chart = alt.layer(*layers).resolve_scale(
    x="independent", y="independent", color="independent", fill="independent", stroke="independent",
    shape="independent", strokeDash="independent"
).properties(
    width=W, height=H, padding=0, autosize=alt.AutoSizeParams(type="none")
).configure_view(stroke=None).configure(font=SANS)

chart.save("out.html", embed_options={"renderer": "svg", "actions": False})
